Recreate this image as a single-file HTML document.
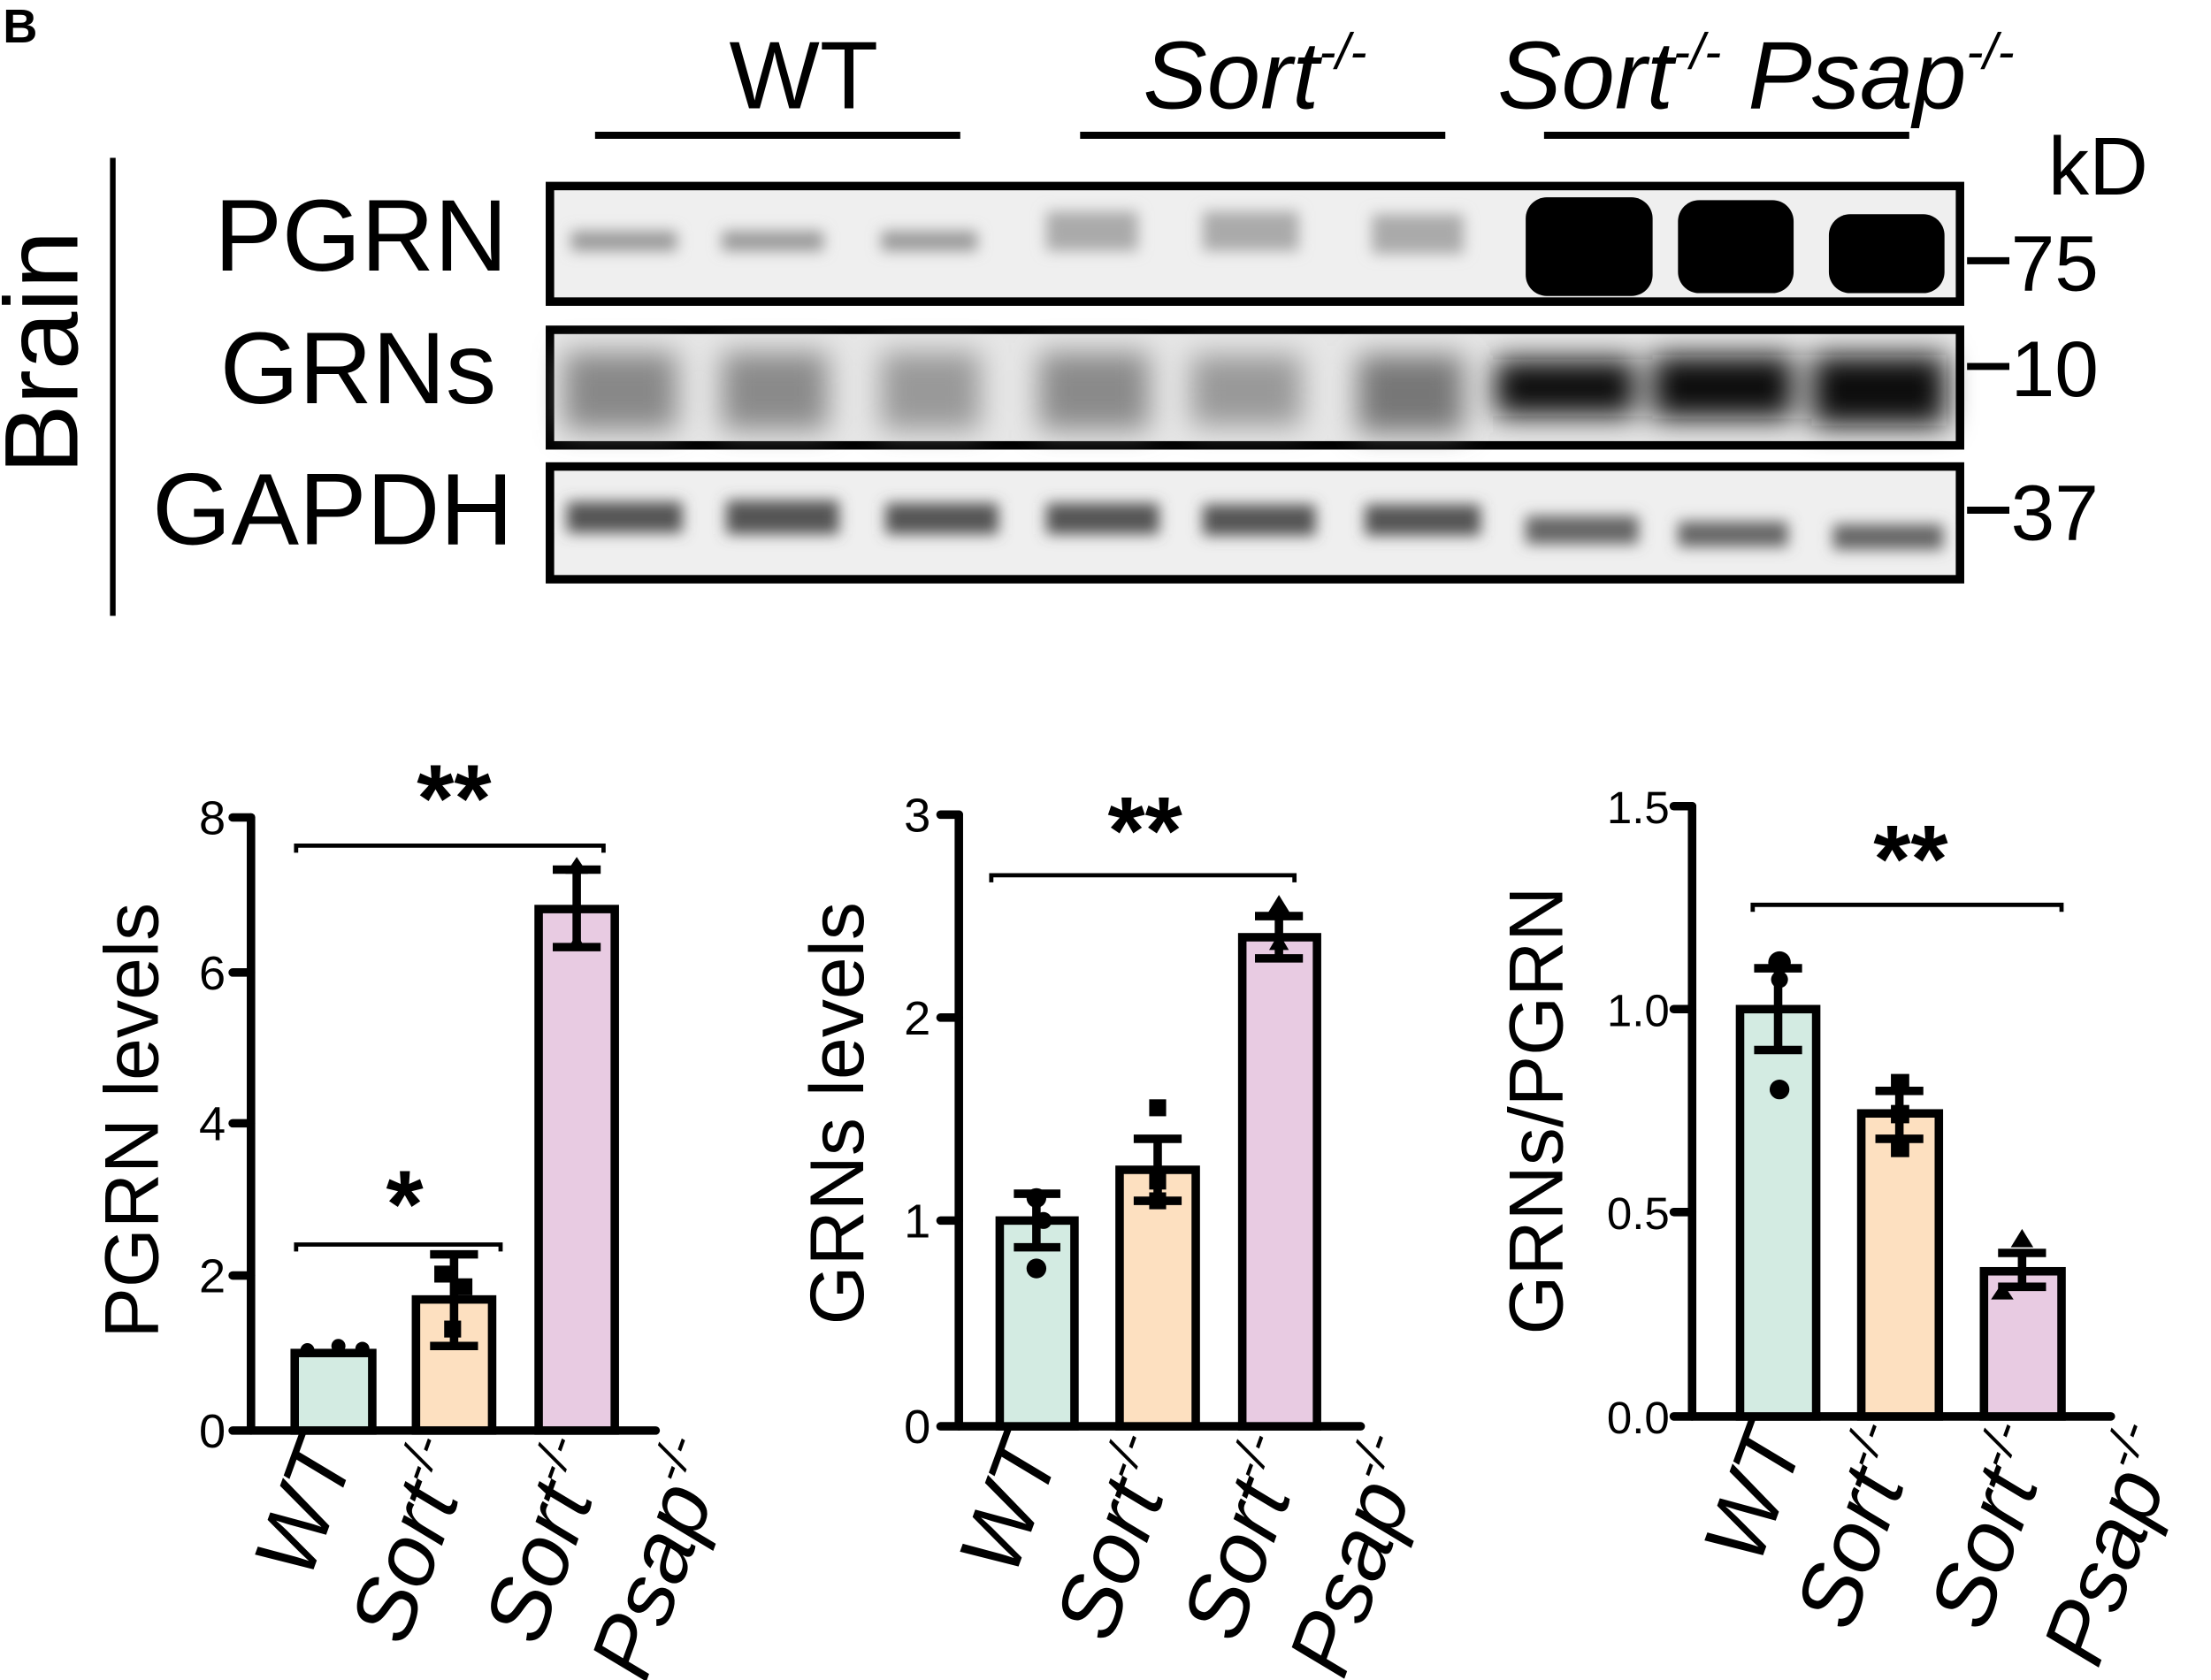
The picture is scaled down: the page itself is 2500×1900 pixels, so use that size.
<!DOCTYPE html>
<html><head><meta charset="utf-8"><style>
html,body{margin:0;padding:0;background:#fff;}
svg{display:block;}
text{font-family:"Liberation Sans",Arial,sans-serif;fill:#000;}
</style></head><body>
<svg width="2500" height="1900" viewBox="0 0 1568 1192" preserveAspectRatio="none" xmlns="http://www.w3.org/2000/svg">
<defs>
<filter id="b1" x="-30%" y="-100%" width="160%" height="300%"><feGaussianBlur stdDeviation="5"/></filter>
<filter id="b2" x="-30%" y="-100%" width="160%" height="300%"><feGaussianBlur stdDeviation="10"/></filter>
</defs>
<rect width="1568" height="1192" fill="#fff"/>
<text x="2" y="30" font-size="34" font-weight="bold">B</text>
<text x="570" y="77" font-size="68" text-anchor="middle">WT</text>
<text x="890" y="77" font-size="68" text-anchor="middle" font-style="italic">Sort<tspan font-size="36" dy="-28">-/-</tspan></text>
<text x="1062" y="77" font-size="68" font-style="italic">Sort<tspan font-size="36" dy="-28">-/-</tspan><tspan dy="28"> Psap</tspan><tspan font-size="36" dy="-28">-/-</tspan></text>
<g stroke="#000" stroke-width="5">
<line x1="422" y1="96" x2="681" y2="96"/><line x1="766" y1="96" x2="1025" y2="96"/><line x1="1095" y1="96" x2="1354" y2="96"/>
<line x1="80" y1="112" x2="80" y2="437" stroke-width="4"/>
</g>
<text x="1488" y="138" font-size="58" text-anchor="middle">kD</text>
<text transform="translate(55,250) rotate(-90)" font-size="74" text-anchor="middle">Brain</text>
<text x="360" y="192" font-size="72" text-anchor="end">PGRN</text>
<text x="352" y="286" font-size="72" text-anchor="end">GRNs</text>
<text x="364" y="386" font-size="72" text-anchor="end">GAPDH</text>
<rect x="390" y="132" width="1000" height="82" fill="#efefef" stroke="#000" stroke-width="6"/>
<rect x="390" y="234" width="1000" height="82" fill="#e6e6e6" stroke="#000" stroke-width="6"/>
<rect x="390" y="331" width="1000" height="80" fill="#efefef" stroke="#000" stroke-width="6"/>
<g filter="url(#b1)" fill="#999">
<rect x="405" y="164" width="75" height="14"/><rect x="512" y="164" width="72" height="14"/><rect x="625" y="164" width="68" height="14"/>
<rect x="742" y="150" width="65" height="28" fill="#aaa"/><rect x="853" y="150" width="68" height="28" fill="#aaa"/><rect x="973" y="152" width="65" height="28" fill="#aaa"/>
</g>
<g fill="#000">
<rect x="1082" y="140" width="90" height="70" rx="15"/><rect x="1190" y="142" width="82" height="66" rx="15"/><rect x="1297" y="152" width="82" height="56" rx="15"/>
</g>
<g filter="url(#b2)">
<rect x="400" y="250" width="80" height="55" fill="#888"/><rect x="512" y="250" width="75" height="55" fill="#8a8a8a"/><rect x="625" y="250" width="70" height="55" fill="#999"/>
<rect x="737" y="250" width="78" height="55" fill="#8a8a8a"/><rect x="845" y="252" width="78" height="50" fill="#999"/><rect x="963" y="252" width="75" height="55" fill="#777"/>
<rect x="1060" y="255" width="100" height="40" fill="#111"/><rect x="1172" y="252" width="100" height="45" fill="#111"/><rect x="1285" y="252" width="95" height="50" fill="#111"/>
</g>
<g filter="url(#b1)" fill="#555">
<rect x="402" y="356" width="82" height="22"/><rect x="515" y="355" width="80" height="24"/><rect x="628" y="357" width="80" height="22"/>
<rect x="742" y="357" width="80" height="22"/><rect x="853" y="358" width="80" height="22"/><rect x="968" y="358" width="82" height="22"/>
<rect x="1082" y="366" width="80" height="20" fill="#666"/><rect x="1190" y="370" width="78" height="18" fill="#666"/><rect x="1300" y="372" width="78" height="18" fill="#666"/>
</g>
<g stroke="#000" stroke-width="5">
<line x1="1395" y1="185" x2="1425" y2="185"/><line x1="1395" y1="260" x2="1425" y2="260"/><line x1="1395" y1="362" x2="1425" y2="362"/>
</g>
<text x="1426" y="206" font-size="56">75</text>
<text x="1426" y="281" font-size="56">10</text>
<text x="1426" y="383" font-size="56">37</text>

<!-- Chart 1 -->
<g stroke="#000" stroke-width="6" stroke-linecap="round">
<line x1="178" y1="580" x2="178" y2="1015"/><line x1="165" y1="1015" x2="465" y2="1015"/>
<line x1="165" y1="580" x2="178" y2="580"/><line x1="165" y1="690" x2="178" y2="690"/><line x1="165" y1="797" x2="178" y2="797"/><line x1="165" y1="905" x2="178" y2="905"/>
</g>
<g font-size="34" text-anchor="end"><text x="160" y="592">8</text><text x="160" y="702">6</text><text x="160" y="809">4</text><text x="160" y="917">2</text><text x="160" y="1027">0</text></g>
<g stroke="#000" stroke-width="6">
<rect x="209" y="960" width="55" height="55" fill="#d3ebe2"/>
<rect x="295" y="922" width="54" height="93" fill="#fde0c0"/>
<rect x="382" y="645" width="54" height="370" fill="#e8cbe2"/>
</g>
<g stroke="#000" stroke-width="6"><line x1="322" y1="890" x2="322" y2="955"/><line x1="305" y1="890" x2="339" y2="890"/><line x1="305" y1="955" x2="339" y2="955"/>
<line x1="409" y1="617" x2="409" y2="672"/><line x1="392" y1="617" x2="426" y2="617"/><line x1="392" y1="672" x2="426" y2="672"/></g>
<g fill="#000"><circle cx="218" cy="958" r="5"/><circle cx="240" cy="955" r="5"/><circle cx="257" cy="957" r="5"/>
<rect x="308" y="898" width="12" height="12"/><rect x="323" y="907" width="12" height="12"/><rect x="315" y="937" width="12" height="12"/>
<polygon points="409,608 401,620 417,620"/><polygon points="409,662 403,673 415,673"/></g>
<g stroke="#000" stroke-width="3" fill="none"><polyline points="210,605 210,600 428,600 428,605"/><polyline points="210,888 210,883 355,883 355,888"/></g>
<text x="322" y="590" font-size="68" text-anchor="middle" font-weight="bold">**</text>
<text x="287" y="878" font-size="68" text-anchor="middle" font-weight="bold">*</text>
<text transform="translate(112,795) rotate(-90)" font-size="54" text-anchor="middle">PGRN levels</text>
<g font-size="62" font-style="italic" text-anchor="end">
<text transform="translate(252,1032) rotate(-70)">WT</text>
<text transform="translate(337,1032) rotate(-70)">Sort<tspan font-size="34" dy="-25">-/-</tspan></text>
<text transform="translate(432,1032) rotate(-70)">Sort<tspan font-size="34" dy="-25">-/-</tspan></text>
<text transform="translate(517,1032) rotate(-70)">Psap<tspan font-size="34" dy="-25">-/-</tspan></text>
</g>

<!-- Chart 2 -->
<g stroke="#000" stroke-width="6" stroke-linecap="round">
<line x1="680" y1="578" x2="680" y2="1012"/><line x1="667" y1="1012" x2="965" y2="1012"/>
<line x1="667" y1="578" x2="680" y2="578"/><line x1="667" y1="722" x2="680" y2="722"/><line x1="667" y1="866" x2="680" y2="866"/>
</g>
<g font-size="34" text-anchor="end"><text x="660" y="590">3</text><text x="660" y="734">2</text><text x="660" y="878">1</text><text x="660" y="1024">0</text></g>
<g stroke="#000" stroke-width="6">
<rect x="709" y="866" width="53" height="146" fill="#d3ebe2"/>
<rect x="794" y="830" width="54" height="182" fill="#fde0c0"/>
<rect x="881" y="665" width="53" height="347" fill="#e8cbe2"/>
</g>
<g stroke="#000" stroke-width="6"><line x1="735" y1="847" x2="735" y2="885"/><line x1="719" y1="847" x2="752" y2="847"/><line x1="719" y1="885" x2="752" y2="885"/>
<line x1="821" y1="808" x2="821" y2="852"/><line x1="804" y1="808" x2="838" y2="808"/><line x1="804" y1="852" x2="838" y2="852"/>
<line x1="907" y1="650" x2="907" y2="680"/><line x1="890" y1="650" x2="924" y2="650"/><line x1="890" y1="680" x2="924" y2="680"/></g>
<g fill="#000"><circle cx="735" cy="850" r="7"/><circle cx="735" cy="900" r="7"/><circle cx="740" cy="866" r="6"/>
<rect x="815" y="780" width="12" height="12"/><rect x="815" y="846" width="12" height="12"/><rect x="815" y="832" width="12" height="12"/>
<polygon points="907,635 899,648 915,648"/><polygon points="907,662 900,674 914,674"/></g>
<polyline points="703,626 703,621 918,621 918,626" stroke="#000" stroke-width="3" fill="none"/>
<text x="812" y="613" font-size="68" text-anchor="middle" font-weight="bold">**</text>
<text transform="translate(612,790) rotate(-90)" font-size="54" text-anchor="middle">GRNs levels</text>
<g font-size="62" font-style="italic" text-anchor="end">
<text transform="translate(752,1030) rotate(-70)">WT</text>
<text transform="translate(837,1030) rotate(-70)">Sort<tspan font-size="34" dy="-25">-/-</tspan></text>
<text transform="translate(927,1030) rotate(-70)">Sort<tspan font-size="34" dy="-25">-/-</tspan></text>
<text transform="translate(1012,1030) rotate(-70)">Psap<tspan font-size="34" dy="-25">-/-</tspan></text>
</g>

<!-- Chart 3 -->
<g stroke="#000" stroke-width="6" stroke-linecap="round">
<line x1="1200" y1="572" x2="1200" y2="1005"/><line x1="1187" y1="1005" x2="1497" y2="1005"/>
<line x1="1187" y1="572" x2="1200" y2="572"/><line x1="1187" y1="716" x2="1200" y2="716"/><line x1="1187" y1="860" x2="1200" y2="860"/>
</g>
<g font-size="32" text-anchor="end"><text x="1184" y="584">1.5</text><text x="1184" y="728">1.0</text><text x="1184" y="872">0.5</text><text x="1184" y="1017">0.0</text></g>
<g stroke="#000" stroke-width="6">
<rect x="1234" y="716" width="54" height="289" fill="#d3ebe2"/>
<rect x="1320" y="790" width="55" height="215" fill="#fde0c0"/>
<rect x="1407" y="902" width="55" height="103" fill="#e8cbe2"/>
</g>
<g stroke="#000" stroke-width="6"><line x1="1261" y1="687" x2="1261" y2="745"/><line x1="1244" y1="687" x2="1278" y2="687"/><line x1="1244" y1="745" x2="1278" y2="745"/>
<line x1="1347" y1="774" x2="1347" y2="808"/><line x1="1330" y1="774" x2="1364" y2="774"/><line x1="1330" y1="808" x2="1364" y2="808"/>
<line x1="1434" y1="889" x2="1434" y2="913"/><line x1="1417" y1="889" x2="1451" y2="889"/><line x1="1417" y1="913" x2="1451" y2="913"/></g>
<g fill="#000"><circle cx="1262" cy="683" r="8"/><circle cx="1262" cy="773" r="7"/><circle cx="1262" cy="695" r="6"/>
<rect x="1341" y="762" width="13" height="13"/><rect x="1341" y="808" width="13" height="13"/><rect x="1341" y="784" width="13" height="13"/>
<polygon points="1434,872 1426,885 1442,885"/><polygon points="1420,910 1412,922 1428,922"/></g>
<polyline points="1243,647 1243,642 1462,642 1462,647" stroke="#000" stroke-width="3" fill="none"/>
<text x="1355" y="633" font-size="68" text-anchor="middle" font-weight="bold">**</text>
<text transform="translate(1108,788) rotate(-90)" font-size="54" text-anchor="middle">GRNs/PGRN</text>
<g font-size="62" font-style="italic" text-anchor="end">
<text transform="translate(1280,1022) rotate(-70)">WT</text>
<text transform="translate(1362,1022) rotate(-70)">Sort<tspan font-size="34" dy="-25">-/-</tspan></text>
<text transform="translate(1457,1022) rotate(-70)">Sort<tspan font-size="34" dy="-25">-/-</tspan></text>
<text transform="translate(1547,1022) rotate(-70)">Psap<tspan font-size="34" dy="-25">-/-</tspan></text>
</g>
</svg>
</body></html>
